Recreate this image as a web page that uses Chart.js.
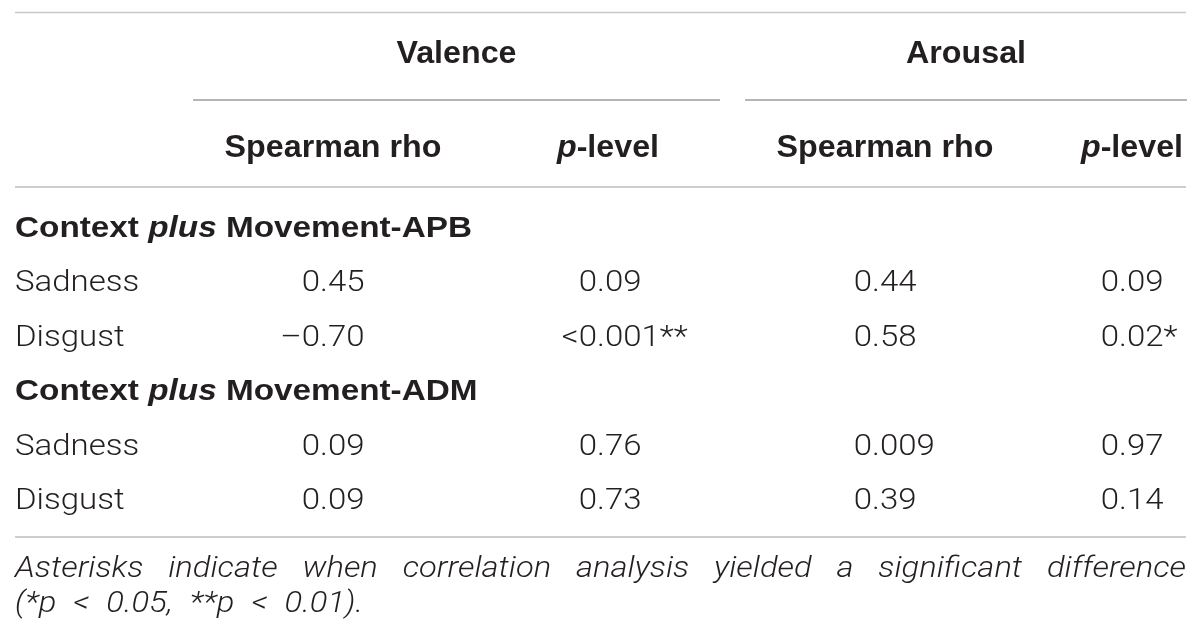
<!DOCTYPE html>
<html>
<head>
<meta charset="utf-8">
<script src="https://cdn.jsdelivr.net/npm/chart.js@4.4.0/dist/chart.umd.min.js"></script>
<style>
html,body{margin:0;padding:0;background:#fff;}
#wrap{width:1200px;height:642px;position:relative;}
</style>
</head>
<body>
<div id="wrap"><canvas id="c"></canvas></div>
<script>
// ---------- DATA ----------
const groupHeaders = ['Valence', 'Arousal'];
const columnHeaders = ['Spearman rho', 'p-level', 'Spearman rho', 'p-level'];
const rowLabels = ['Context plus Movement-APB', 'Sadness', 'Disgust', 'Context plus Movement-ADM', 'Sadness', 'Disgust'];
const rowIsGroup = [true, false, false, true, false, false];
const valenceRho = [null, '0.45', '\u20130.70', null, '0.09', '0.09'];
const valenceP   = [null, '0.09', '<0.001**', null, '0.76', '0.73'];
const arousalRho = [null, '0.44', '0.58', null, '0.009', '0.39'];
const arousalP   = [null, '0.09', '0.02*', null, '0.97', '0.14'];
const footnoteLines = [
  'Asterisks indicate when correlation analysis yielded a significant difference',
  '(*p < 0.05, **p < 0.01).'
];

// ---------- LAYOUT / STYLE ----------
const valueColumns = [valenceRho, valenceP, arousalRho, arousalP];
const columnAnchors = [320, 597, 872, 1119];   // decimal-point x positions
const headerCenters = [333, 608, 885, 1132];
const groupSpans = [[193, 720], [745, 1187]];
const TEXT = '#231f20';
const LIGHT = '300 30px Roboto, "Liberation Sans", sans-serif';
const LIGHT_IT = 'italic 300 29px Roboto, "Liberation Sans", sans-serif';
const BOLD = 'bold 31px "Liberation Sans", Arial, sans-serif';
const BOLD_IT = 'italic bold 31px "Liberation Sans", Arial, sans-serif';
const GBOLD = 'bold 30px "Liberation Sans", Arial, sans-serif';
const GBOLD_IT = 'italic bold 30px "Liberation Sans", Arial, sans-serif';
const HS_LIGHT = 1.1, HS_BOLD = 1.04, HS_GROUP = 1.11, HS_FOOT = 1.13;
const FOOT_LINE2_EXTRA_GAP = 9;

function measure(ctx, s, font, hs) {
  ctx.save(); ctx.font = font; const m = ctx.measureText(s).width * hs; ctx.restore(); return m;
}
function drawText(ctx, s, x, y, font, align, hs) {
  ctx.save(); ctx.font = font; ctx.fillStyle = TEXT; ctx.textAlign = align; ctx.textBaseline = 'alphabetic';
  ctx.translate(x, y); ctx.scale(hs, 1); ctx.fillText(s, 0, 0); ctx.restore();
}
function drawRuns(ctx, parts, x, y, align, hs) {
  const widths = parts.map(p => measure(ctx, p.t, p.f, hs));
  const total = widths.reduce((a, b) => a + b, 0);
  let cx = align === 'center' ? x - total / 2 : (align === 'right' ? x - total : x);
  parts.forEach((p, i) => { drawText(ctx, p.t, cx, y, p.f, 'left', hs); cx += widths[i]; });
}
function hline(ctx, x1, x2, y, color, lw) {
  ctx.save(); ctx.strokeStyle = color; ctx.lineWidth = lw;
  ctx.beginPath(); ctx.moveTo(x1, y); ctx.lineTo(x2, y); ctx.stroke(); ctx.restore();
}

const tablePlugin = {
  id: 'tablePlugin',
  afterDraw(chart) {
    const ctx = chart.ctx;
    const xs = chart.scales.x, ys = chart.scales.y;
    const L = xs.getPixelForValue(15), R = xs.getPixelForValue(1186);
    // rules
    hline(ctx, L, R, 12.5, '#c8c8c8', 1.6);
    groupSpans.forEach(s => hline(ctx, xs.getPixelForValue(s[0]), xs.getPixelForValue(s[1]), 100, '#9c9c9c', 1.5));
    hline(ctx, L, R, 187, '#bdbdbd', 1.5);
    hline(ctx, L, R, 537, '#bdbdbd', 1.5);
    // group headers
    groupHeaders.forEach((g, i) => {
      const c = xs.getPixelForValue((groupSpans[i][0] + groupSpans[i][1]) / 2);
      drawText(ctx, g, c, 62.5, BOLD, 'center', HS_BOLD);
    });
    // column headers
    columnHeaders.forEach((h, i) => {
      const c = xs.getPixelForValue(headerCenters[i]);
      if (h.startsWith('p-')) {
        drawRuns(ctx, [{t: 'p', f: BOLD_IT}, {t: h.slice(1), f: BOLD}], c, 156.5, 'center', HS_BOLD);
      } else {
        drawText(ctx, h, c, 156.5, BOLD, 'center', HS_BOLD);
      }
    });
    // row labels
    rowLabels.forEach((lab, r) => {
      const y = ys.getPixelForValue(r);
      if (rowIsGroup[r]) {
        const k = lab.indexOf(' plus ');
        drawRuns(ctx, [
          {t: lab.slice(0, k + 1), f: GBOLD},
          {t: 'plus', f: GBOLD_IT},
          {t: lab.slice(k + 5), f: GBOLD}
        ], L, y + 10.5, 'left', HS_GROUP);
      } else {
        drawText(ctx, lab, L, y + 10.7, LIGHT, 'left', HS_LIGHT);
      }
    });
    // values, decimal-aligned, at the dataset points
    chart.data.datasets.forEach((ds, di) => {
      const meta = chart.getDatasetMeta(di);
      meta.data.forEach((pt, r) => {
        const s = valueColumns[di][r];
        if (s == null) return;
        const k = s.indexOf('.');
        const pre = s.slice(0, k), post = s.slice(k);
        drawText(ctx, pre, pt.x, pt.y + 10.7, LIGHT, 'right', HS_LIGHT);
        drawText(ctx, post, pt.x, pt.y + 10.7, LIGHT, 'left', HS_LIGHT);
      });
    });
    // footnote (first line justified)
    const words = footnoteLines[0].split(' ');
    const ww = words.map(w => measure(ctx, w, LIGHT_IT, HS_FOOT));
    const gap = (R - L - ww.reduce((a, b) => a + b, 0)) / (words.length - 1);
    let cx = L;
    words.forEach((w, i) => { drawText(ctx, w, cx, 577, LIGHT_IT, 'left', HS_FOOT); cx += ww[i] + gap; });
    const words2 = footnoteLines[1].split(' ');
    const sp = measure(ctx, ' ', LIGHT_IT, HS_FOOT) + FOOT_LINE2_EXTRA_GAP;
    cx = L;
    words2.forEach(w => { drawText(ctx, w, cx, 612, LIGHT_IT, 'left', HS_FOOT); cx += measure(ctx, w, LIGHT_IT, HS_FOOT) + sp; });
  }
};

new Chart(document.getElementById('c'), {
  type: 'scatter',
  data: {
    datasets: valueColumns.map((col, ci) => ({
      label: columnHeaders[ci],
      data: col.map((v, r) => ({x: columnAnchors[ci], y: r})),
      pointRadius: 0,
      pointHoverRadius: 0
    }))
  },
  options: {
    responsive: true,
    maintainAspectRatio: false,
    animation: false,
    events: [],
    layout: {padding: {top: 199, bottom: 116, left: 0, right: 0}},
    scales: {
      x: {type: 'linear', min: 0, max: 1200, display: false},
      y: {type: 'linear', min: -0.5, max: 5.5, reverse: true, display: false}
    },
    plugins: {legend: {display: false}, tooltip: {enabled: false}}
  },
  plugins: [tablePlugin]
});
</script>
</body>
</html>
